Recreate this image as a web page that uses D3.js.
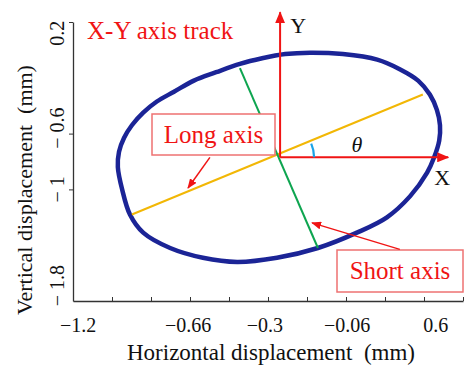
<!DOCTYPE html>
<html>
<head>
<meta charset="utf-8">
<script src="https://cdn.jsdelivr.net/npm/d3@7"></script>
<style>
  body { margin: 0; background: #fff; }
  svg { display: block; }
  svg text { font-family: "Liberation Serif", Tinos, "DejaVu Serif", serif; }
</style>
</head>
<body>
<div id="chart"></div>
<script>
// x is kept in tick-grid units (the printed x labels are not evenly spaced), y in mm
const xTickLabels = ["−1.2", "−0.66", "−0.3", "−0.06", "0.6"];
const xTickLabelAt = [0.13, 2.95, 4.92, 7.03, 9.3];
const yTickValues = [0.2, -0.6, -1];
const yTickLabels = ["0.2", "− 0.6", "− 1", "− 1.8"];
const yTickLabelAt = [0.12, -0.56, -1.0, -1.69];

const trackX = [1.15, 1.18, 1.31, 1.51, 1.80, 2.15, 2.59, 3.10, 3.67, 4.28, 4.85, 5.44, 6.08, 6.92,
  7.80, 8.39, 8.85, 9.15, 9.33, 9.41, 9.39, 9.26, 9.08, 8.64, 8.05, 7.28, 6.28, 5.23, 4.21, 3.33,
  2.49, 1.80, 1.46, 1.26];
const trackY = [-0.84, -0.73, -0.63, -0.54, -0.45, -0.37, -0.30, -0.22, -0.16, -0.10, -0.06, -0.03, -0.02, -0.03,
  -0.07, -0.14, -0.22, -0.32, -0.43, -0.54, -0.65, -0.77, -0.88, -1.05, -1.20, -1.31, -1.42, -1.49, -1.52, -1.49,
  -1.42, -1.31, -1.18, -1.00];

// fitted axes of the track
const origin = [5.31, -0.77];
const longAxis = [[1.51, -1.18], [8.97, -0.32]];
const shortAxis = [[4.28, -0.13], [6.28, -1.42]];
const xArrowEnd = 9.62;
const yArrowEnd = 0.27;

// callouts: [from, to]
const longCallout = [[3.51, -0.77], [2.95, -0.99]];
const shortCallout = [[8.38, -1.43], [6.13, -1.24]];

const width = 474, height = 370;
const margin = { top: 22, right: 11, bottom: 69, left: 73 };

const x = d3.scaleLinear().domain([0, 10]).range([margin.left, width - margin.right]);
const y = d3.scaleLinear().domain([-1.8, 0.2]).range([height - margin.bottom, margin.top]);

const serif = "'Liberation Serif', Tinos, 'DejaVu Serif', serif";
const svg = d3.select("#chart").append("svg")
  .attr("width", width)
  .attr("height", height)
  .attr("font-family", serif);

const red = "#f01414";
const defs = svg.append("defs");
// big arrowhead for the X / Y axes
defs.append("marker")
  .attr("id", "bigArrow")
  .attr("markerUnits", "userSpaceOnUse")
  .attr("viewBox", "0 0 12 10")
  .attr("refX", 11).attr("refY", 5)
  .attr("markerWidth", 12).attr("markerHeight", 10)
  .attr("orient", "auto")
  .append("path").attr("d", "M0,0L12,5L0,10Z").attr("fill", red);
// small arrowhead for callouts
defs.append("marker")
  .attr("id", "smallArrow")
  .attr("markerUnits", "userSpaceOnUse")
  .attr("viewBox", "0 0 10 8")
  .attr("refX", 9).attr("refY", 4)
  .attr("markerWidth", 10).attr("markerHeight", 8)
  .attr("orient", "auto")
  .append("path").attr("d", "M0,0L10,4L0,8Z").attr("fill", red);

// axes
svg.append("g")
  .attr("transform", `translate(0,${y(-1.8)})`)
  .call(d3.axisBottom(x).tickValues(d3.range(0, 11)).tickSize(-4).tickSizeOuter(0).tickFormat(""))
  .call(g => g.select(".domain").attr("stroke", "#333").attr("stroke-width", 1.3))
  .call(g => g.selectAll(".tick line").attr("stroke", "#333"));

svg.append("g")
  .attr("transform", `translate(${x(0)},0)`)
  .call(d3.axisLeft(y).tickValues(yTickValues).tickSize(4).tickSizeOuter(0).tickFormat(""))
  .call(g => g.select(".domain").attr("stroke", "#333").attr("stroke-width", 1.3))
  .call(g => g.selectAll(".tick line").attr("stroke", "#333"));

// tick labels
svg.append("g")
  .selectAll("text")
  .data(xTickLabels)
  .join("text")
  .attr("x", (d, i) => x(xTickLabelAt[i]))
  .attr("y", y(-1.8) + 31)
  .attr("text-anchor", "middle")
  .attr("font-size", 20)
  .attr("fill", "#111")
  .text(d => d);

svg.append("g")
  .selectAll("text")
  .data(yTickLabels)
  .join("text")
  .attr("transform", (d, i) => `translate(${x(0) - 9},${y(yTickLabelAt[i])}) rotate(-90)`)
  .attr("text-anchor", "middle")
  .attr("font-size", 20)
  .attr("fill", "#111")
  .text(d => d);

// axis titles
svg.append("text")
  .attr("x", 271)
  .attr("y", 360)
  .attr("text-anchor", "middle")
  .attr("font-size", 23)
  .attr("fill", "#111")
  .text("Horizontal displacement\u2002(mm)");

svg.append("text")
  .attr("transform", `translate(32,190) rotate(-90)`)
  .attr("text-anchor", "middle")
  .attr("font-size", 22)
  .attr("fill", "#111")
  .text("Vertical displacement\u2002(mm)");

// the track
const line = d3.line()
  .x(d => x(d[0]))
  .y(d => y(d[1]))
  .curve(d3.curveCatmullRomClosed);

svg.append("path")
  .datum(trackX.map((v, i) => [v, trackY[i]]))
  .attr("d", line)
  .attr("fill", "none")
  .attr("stroke", "#1b2496")
  .attr("stroke-width", 4.5);

// long / short axes
const seg = d3.line().x(d => x(d[0])).y(d => y(d[1]));
svg.append("path").attr("d", seg(longAxis))
  .attr("stroke", "#f2b705").attr("stroke-width", 2).attr("fill", "none");
svg.append("path").attr("d", seg(shortAxis))
  .attr("stroke", "#0ea550").attr("stroke-width", 2).attr("fill", "none");

// local X / Y axes
svg.append("path").attr("d", seg([origin, [origin[0], yArrowEnd]]))
  .attr("stroke", red).attr("stroke-width", 2).attr("marker-end", "url(#bigArrow)");
svg.append("path").attr("d", seg([origin, [xArrowEnd, origin[1]]]))
  .attr("stroke", red).attr("stroke-width", 2).attr("marker-end", "url(#bigArrow)");

svg.append("text").attr("x", x(origin[0]) + 18).attr("y", 33)
  .attr("text-anchor", "middle").attr("font-size", 22).attr("fill", "#111").text("Y");
svg.append("text").attr("x", x(xArrowEnd) - 6).attr("y", 185)
  .attr("text-anchor", "middle").attr("font-size", 22).attr("fill", "#111").text("X");

// theta arc
const ox = x(origin[0]), oy = y(origin[1]);
const theta = Math.atan2(oy - y(longAxis[1][1]), x(longAxis[1][0]) - ox);
const r = 34;
const arcPath = d3.path();
arcPath.moveTo(ox + r * Math.cos(-theta), oy + r * Math.sin(-theta));
arcPath.arc(ox, oy, r, -theta, 0);
svg.append("path").attr("d", arcPath.toString())
  .attr("fill", "none").attr("stroke", "#1aa3e8").attr("stroke-width", 2.2);
svg.append("text").attr("x", 357).attr("y", 152)
  .attr("text-anchor", "middle").attr("font-size", 22).attr("font-style", "italic")
  .attr("fill", "#111").text("θ");

// callout boxes
function callout(bx, by, bw, bh, label) {
  svg.append("rect").attr("x", bx).attr("y", by).attr("width", bw).attr("height", bh)
    .attr("fill", "#fff").attr("stroke", "#ee7272").attr("stroke-width", 1.5);
  svg.append("text").attr("x", bx + bw / 2).attr("y", by + bh / 2 + 8)
    .attr("text-anchor", "middle").attr("font-size", 25).attr("fill", red).text(label);
}
callout(152, 114, 123, 41, "Long axis");
callout(337, 250, 126, 42, "Short axis");

svg.append("path").attr("d", seg(longCallout))
  .attr("stroke", red).attr("stroke-width", 1.5).attr("marker-end", "url(#smallArrow)");
svg.append("path").attr("d", seg(shortCallout))
  .attr("stroke", red).attr("stroke-width", 1.3).attr("marker-end", "url(#smallArrow)");

// title
svg.append("text").attr("x", 87).attr("y", 39)
  .attr("font-size", 25).attr("fill", red).text("X-Y axis track");
</script>
</body>
</html>
